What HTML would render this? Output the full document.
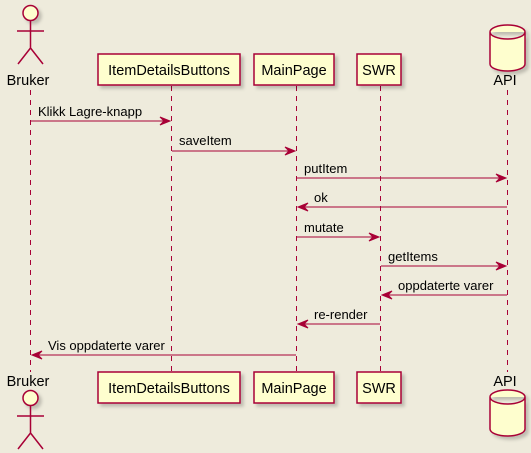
<!DOCTYPE html>
<html><head><style>body{margin:0;background:#EEEBDC}svg{display:block}</style></head><body>
<svg width="531" height="453" xmlns="http://www.w3.org/2000/svg" font-family="Liberation Sans, sans-serif">
<rect width="531" height="453" fill="#EEEBDC"/>
<defs><filter id="s" x="-20%" y="-20%" width="150%" height="150%"><feDropShadow dx="3" dy="3" stdDeviation="1.5" flood-color="#000" flood-opacity="0.2"/></filter></defs>
<g stroke="#A80036" stroke-width="1" stroke-dasharray="5,5">
<line x1="30.5" y1="90" x2="30.5" y2="372"/>
<line x1="171.5" y1="86" x2="171.5" y2="372"/>
<line x1="296.5" y1="86" x2="296.5" y2="372"/>
<line x1="380.5" y1="86" x2="380.5" y2="372"/>
<line x1="507.5" y1="90" x2="507.5" y2="372"/>
</g>
<g fill="#FEFECE" stroke="#A80036" stroke-width="1.5" filter="url(#s)">
<rect x="98" y="54" width="142" height="31"/><rect x="254" y="54" width="80" height="31"/><rect x="357" y="54" width="44" height="31"/>
<rect x="98" y="372" width="142" height="31"/><rect x="254" y="372" width="80" height="31"/><rect x="357" y="372" width="44" height="31"/>
<circle cx="30.5" cy="13" r="7.5"/><circle cx="30.5" cy="398" r="7.5"/>
<path d="M490 32 a17.5 7 0 0 1 35 0 v32 a17.5 7 0 0 1 -35 0 z M490 32 a17.5 7 0 0 0 35 0" />
<path d="M490 397 a17.5 7 0 0 1 35 0 v32 a17.5 7 0 0 1 -35 0 z M490 397 a17.5 7 0 0 0 35 0" />
</g>
<g stroke="#A80036" stroke-width="1.5" fill="none">
<path d="M30.5 20.5 V48 M17 31 H44 M30.5 48 L18 64 M30.5 48 L43 64"/>
<path d="M30.5 405.5 V433 M17 416 H44 M30.5 433 L18 449 M30.5 433 L43 449"/>
</g>
<g font-size="14.5" fill="#000" text-anchor="middle">
<text x="169" y="75">ItemDetailsButtons</text><text x="294" y="75">MainPage</text><text x="379" y="75">SWR</text>
<text x="169" y="393">ItemDetailsButtons</text><text x="294" y="393">MainPage</text><text x="379" y="393">SWR</text>
<text x="28" y="85">Bruker</text><text x="505" y="85">API</text>
<text x="28" y="386">Bruker</text><text x="505" y="386">API</text>
</g>
<g stroke="#A80036" stroke-width="1" fill="#A80036">
<line x1="30" y1="121" x2="170" y2="121"/><path d="M160 117 L170 121 L160 125 L164 121Z"/>
<line x1="172" y1="151" x2="295" y2="151"/><path d="M285 147 L295 151 L285 155 L289 151Z"/>
<line x1="297" y1="178" x2="506" y2="178"/><path d="M496 174 L506 178 L496 182 L500 178Z"/>
<line x1="298" y1="207" x2="507" y2="207"/><path d="M308 203 L298 207 L308 211 L304 207Z"/>
<line x1="297" y1="237" x2="379" y2="237"/><path d="M369 233 L379 237 L369 241 L373 237Z"/>
<line x1="381" y1="266" x2="506" y2="266"/><path d="M496 262 L506 266 L496 270 L500 266Z"/>
<line x1="382" y1="295" x2="507" y2="295"/><path d="M392 291 L382 295 L392 299 L388 295Z"/>
<line x1="298" y1="324" x2="380" y2="324"/><path d="M308 320 L298 324 L308 328 L304 324Z"/>
<line x1="32" y1="355" x2="296" y2="355"/><path d="M42 351 L32 355 L42 359 L38 355Z"/>
</g>
<g font-size="13" fill="#000">
<text x="38" y="116">Klikk Lagre-knapp</text>
<text x="179" y="145">saveItem</text>
<text x="304" y="173">putItem</text>
<text x="314" y="202">ok</text>
<text x="304" y="232">mutate</text>
<text x="388" y="261">getItems</text>
<text x="398" y="290">oppdaterte varer</text>
<text x="314" y="319">re-render</text>
<text x="48" y="350">Vis oppdaterte varer</text>
</g>
</svg>
</body></html>
